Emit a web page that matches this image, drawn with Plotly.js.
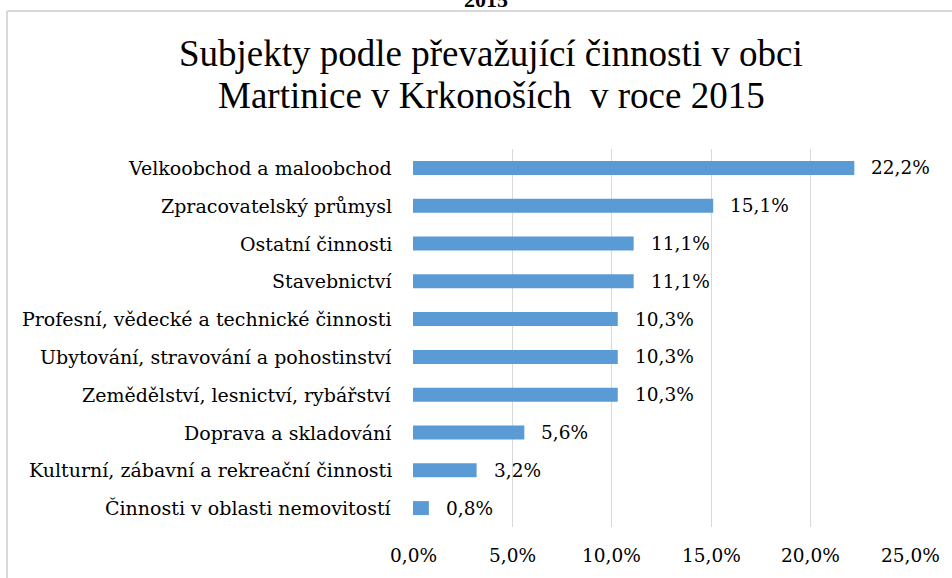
<!DOCTYPE html>
<html>
<head>
<meta charset="utf-8">
<script src="https://cdn.plot.ly/plotly-3.0.1.min.js"></script>
<style>
html,body{margin:0;padding:0;background:#fff;}
#chart{width:952px;height:578px;}
</style>
</head>
<body>
<div id="chart"></div>
<script>
const categories = [
  "Velkoobchod a maloobchod",
  "Zpracovatelský průmysl",
  "Ostatní činnosti",
  "Stavebnictví",
  "Profesní, vědecké a technické činnosti",
  "Ubytování, stravování a pohostinství",
  "Zemědělství, lesnictví, rybářství",
  "Doprava a skladování",
  "Kulturní, zábavní a rekreační činnosti",
  "Činnosti v oblasti nemovitostí"
];
const shares = [22.2, 15.1, 11.1, 11.1, 10.3, 10.3, 10.3, 5.6, 3.2, 0.8];
const xTicks = [0, 5, 10, 15, 20, 25];
const xTickLabels = ["0,0%", "5,0%", "10,0%", "15,0%", "20,0%", "25,0%"];
const barLabels = ["22,2%", "15,1%", "11,1%", "11,1%", "10,3%", "10,3%", "10,3%", "5,6%", "3,2%", "0,8%"];
const titleLine1 = "Subjekty podle převažující činnosti v obci";
const titleLine2 = "Martinice v Krkonoších\u00a0\u00a0v roce 2015";
const topCutText = "2015";

const serif = "Liberation Serif";
const smallSerif = "DejaVu Serif";

const trace = {
  type: "bar",
  orientation: "h",
  y: categories,
  x: shares,
  marker: {color: "#5b9bd5"},
  hoverinfo: "skip"
};

const py = px => (527 - px) / 378;
const pxX = px => (px - 413) / 497;

const catAnnotations = categories.map(c => ({
  text: c, xref: "x", yref: "y", x: 0, y: c,
  xanchor: "right", yanchor: "middle", xshift: -19, showarrow: false,
  font: {family: smallSerif, size: 19, color: "#000"}
}));
const valueAnnotations = shares.map((v, i) => ({
  text: barLabels[i], xref: "x", yref: "y", x: v, y: categories[i],
  xanchor: "left", yanchor: "middle", xshift: 15, showarrow: false,
  font: {family: smallSerif, size: 18.5, color: "#000"}
}));
const tickAnnotations = xTicks.map((t, i) => ({
  text: xTickLabels[i], xref: "x", yref: "paper", x: t, y: py(555),
  xanchor: "center", yanchor: "middle", showarrow: false,
  font: {family: smallSerif, size: 18.5, color: "#000"}
}));

const layout = {
  width: 952,
  height: 578,
  margin: {l: 413, r: 42, t: 149, b: 51, pad: 0},
  paper_bgcolor: "#fff",
  plot_bgcolor: "#fff",
  separators: ",.",
  showlegend: false,
  bargap: 0.63,
  font: {family: serif, size: 22, color: "#000"},
  xaxis: {
    range: [0, 25],
    tickmode: "array",
    tickvals: xTicks,
    showticklabels: false,
    showgrid: true,
    gridcolor: "#d9d9d9",
    gridwidth: 1,
    zeroline: false,
    showline: false,
    ticks: "",
    fixedrange: true
  },
  yaxis: {
    autorange: "reversed",
    showticklabels: false,
    showgrid: false,
    zeroline: false,
    showline: false,
    ticks: "",
    fixedrange: true
  },
  shapes: [
    {type: "line", xref: "paper", yref: "paper",
     x0: pxX(7), x1: pxX(7),
     y0: -0.3, y1: py(11),
     line: {color: "#d9d9d9", width: 2}},
    {type: "line", xref: "paper", yref: "paper",
     x0: pxX(7), x1: 1.3,
     y0: py(11), y1: py(11),
     line: {color: "#d9d9d9", width: 2}}
  ],
  annotations: [
    {text: titleLine1, xref: "paper", yref: "paper",
     x: pxX(491), y: py(76),
     xanchor: "center", yanchor: "bottom", showarrow: false,
     font: {family: serif, size: 37, color: "#000"}},
    {text: titleLine2, xref: "paper", yref: "paper",
     x: pxX(491), y: py(118),
     xanchor: "center", yanchor: "bottom", showarrow: false,
     font: {family: serif, size: 37, color: "#000"}},
    {text: "<b>" + topCutText + "</b>", xref: "paper", yref: "paper",
     x: pxX(486), y: py(14),
     xanchor: "center", yanchor: "bottom", showarrow: false,
     font: {family: serif, size: 22, color: "#000"}}
  ].concat(catAnnotations, valueAnnotations, tickAnnotations)
};

Plotly.newPlot("chart", [trace], layout, {displayModeBar: false, staticPlot: true});
</script>
</body>
</html>
